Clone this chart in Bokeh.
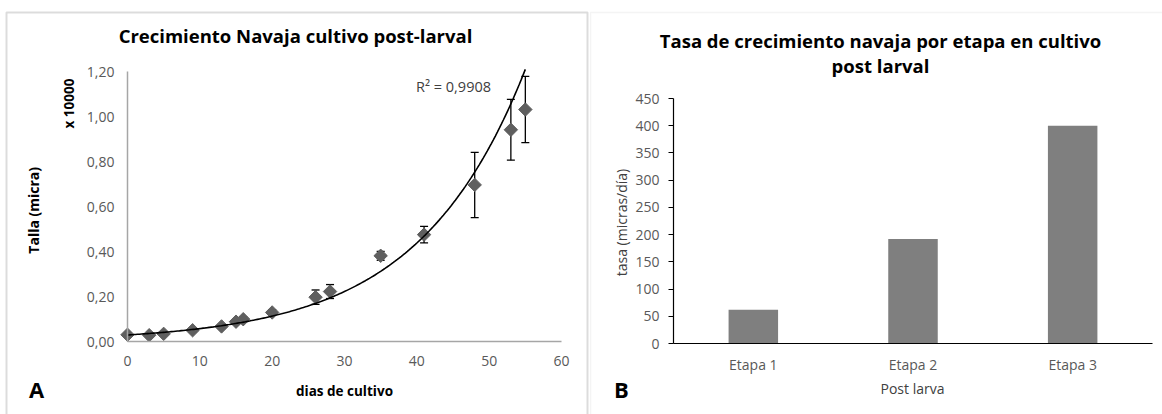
import math
import numpy as np
from bokeh.plotting import figure
from bokeh.models import (Range1d, FixedTicker, Label, ColumnDataSource,
                          Whisker, TeeHead, BoxAnnotation)
from bokeh.layouts import row
from bokeh.embed import file_html
from bokeh.resources import INLINE

# ---------------- data: panel A ----------------
dias = [0, 3, 5, 9, 13, 15, 16, 20, 26, 28, 35, 41, 48, 53, 55]
talla = [0.030, 0.028, 0.034, 0.050, 0.067, 0.088, 0.099, 0.129, 0.197, 0.222,
         0.381, 0.475, 0.696, 0.941, 1.031]
error = [0.005, 0.005, 0.005, 0.008, 0.008, 0.010, 0.010, 0.012, 0.032, 0.031,
         0.020, 0.037, 0.145, 0.135, 0.147]
x_ticks_a = [0, 10, 20, 30, 40, 50, 60]
y_ticks_a = [0.0, 0.2, 0.4, 0.6, 0.8, 1.0, 1.2]
y_labels_a = ["0,00", "0,20", "0,40", "0,60", "0,80", "1,00", "1,20"]
r2_text = "R² = 0,9908"

# ---------------- data: panel B ----------------
etapas = ["Etapa 1", "Etapa 2", "Etapa 3"]
tasa = [62, 192, 400]
y_ticks_b = [0, 50, 100, 150, 200, 250, 300, 350, 400, 450]

FONT = "Open Sans"
GRAY_TXT = "#595959"
H = 414

# ---------------- layout geometry (pixels) ----------------
WA, WB = 589, 573
A_X0, A_X1, A_Y0, A_Y1 = 127, 561, 341, 71      # pixel of x=0, x=60, y=0, y=1.2
B_X0, B_X1, B_Y0, B_Y1 = 84, 563, 343, 98       # pixel of category start/end, y=0, y=450

def common(p):
    p.grid.visible = False
    p.outline_line_color = None
    p.background_fill_color = "white"
    p.border_fill_color = "white"

def lab(p, x, y, text, size, bold=False, color="black", angle=0.0):
    p.add_layout(Label(x=x, y=y, text=text, text_font=FONT, text_font_size=size,
                       text_font_style="bold" if bold else "normal", text_color=color,
                       text_align="center", text_baseline="middle", angle=angle))

# ================= Panel A =================
kxa = (A_X1 - A_X0) / 60.0
kya = (A_Y0 - A_Y1) / 1.2
xa = lambda px: (px - A_X0) / kxa
ya = lambda py: (A_Y0 - py) / kya

fa = figure(width=WA, height=H,
            x_range=Range1d(xa(0), xa(WA)), y_range=Range1d(ya(H), ya(0)),
            output_backend="svg", toolbar_location=None, title_location=None,
            min_border=0, min_border_left=0, min_border_right=0,
            min_border_top=0, min_border_bottom=0)
common(fa)

for ax in (fa.xaxis[0], fa.yaxis[0]):
    ax.axis_line_color = "#a6a6a6"
    ax.axis_line_width = 1.5
    ax.major_tick_line_color = None
    ax.minor_tick_line_color = None
    ax.major_tick_out = 0
    ax.major_tick_in = 0
    ax.major_label_text_font = FONT
    ax.major_label_text_font_size = "14px"
    ax.major_label_text_color = GRAY_TXT
    ax.fixed_location = 0
fa.xaxis.bounds = (x_ticks_a[0], x_ticks_a[-1])
fa.yaxis.bounds = (y_ticks_a[0], y_ticks_a[-1])
fa.xaxis.ticker = FixedTicker(ticks=x_ticks_a)
fa.yaxis.ticker = FixedTicker(ticks=y_ticks_a)
fa.yaxis.major_label_overrides = {t: l for t, l in zip(y_ticks_a, y_labels_a)}
fa.yaxis.major_label_standoff = 13
fa.xaxis.major_label_standoff = 14

src = ColumnDataSource(dict(x=dias, y=talla,
                            lo=[t - e for t, e in zip(talla, error)],
                            hi=[t + e for t, e in zip(talla, error)]))
wh = Whisker(source=src, base="x", lower="lo", upper="hi", line_color="black", line_width=1.3,
             upper_head=TeeHead(size=8, line_color="black", line_width=1.3),
             lower_head=TeeHead(size=8, line_color="black", line_width=1.3),
             level="underlay")
fa.add_layout(wh)
fa.scatter("x", "y", source=src, marker="square", angle=math.pi / 4, size=9.5,
           fill_color="#5f5f5f", line_color="#5f5f5f")

# exponential trendline: least-squares fit of log(talla) on dias
b, ln_a = np.polyfit(np.array(dias, float), np.log(np.array(talla)), 1)
xs = np.linspace(min(dias), max(dias), 200)
fa.line(xs, np.exp(ln_a) * np.exp(b * xs), line_color="black", line_width=1.6)

lab(fa, xa(295), ya(35), "Crecimiento Navaja cultivo post-larval", "18.5px", bold=True)
lab(fa, xa(453), ya(86), r2_text, "14.5px", color="#404040")
lab(fa, xa(33), ya(208), "Talla  (micra)", "14px", bold=True, angle=math.pi / 2)
lab(fa, xa(68), ya(103), "x 10000", "13.5px", bold=True, angle=math.pi / 2)
lab(fa, xa(344), ya(390), "dias de cultivo", "13.5px", bold=True)
lab(fa, xa(36), ya(388), "A", "22px", bold=True)

fa.add_layout(BoxAnnotation(left=xa(6), right=xa(587), top=ya(12), bottom=ya(H + 20),
                            fill_alpha=0, line_color="#8c8c8c", line_width=2))

# ================= Panel B =================
kxb = (B_X1 - B_X0) / len(etapas)
kyb = (B_Y0 - B_Y1) / 450.0
xb = lambda px: (px - B_X0) / kxb
yb = lambda py: (B_Y0 - py) / kyb
pos_b = [i + 0.5 for i in range(len(etapas))]

fb = figure(width=WB, height=H,
            x_range=Range1d(xb(0), xb(WB)), y_range=Range1d(yb(H), yb(0)),
            output_backend="svg", toolbar_location=None, title_location=None,
            min_border=0, min_border_left=0, min_border_right=0,
            min_border_top=0, min_border_bottom=0)
common(fb)
fb.vbar(x=pos_b, top=tasa, width=0.31, fill_color="#7f7f7f", line_color=None)

for ax in (fb.xaxis[0], fb.yaxis[0]):
    ax.axis_line_color = "black"
    ax.axis_line_width = 1.2
    ax.minor_tick_line_color = None
    ax.major_label_text_font = FONT
    ax.major_label_text_font_size = "14px"
    ax.major_label_text_color = GRAY_TXT
    ax.fixed_location = 0
fb.xaxis.bounds = (0, len(etapas))
fb.yaxis.bounds = (y_ticks_b[0], y_ticks_b[-1])
fb.xaxis.ticker = FixedTicker(ticks=pos_b)
fb.xaxis.major_label_overrides = {p_: e for p_, e in zip(pos_b, etapas)}
fb.xaxis.major_tick_line_color = None
fb.xaxis.major_tick_out = 0
fb.xaxis.major_tick_in = 0
fb.xaxis.major_label_standoff = 11
fb.yaxis.ticker = FixedTicker(ticks=y_ticks_b)
fb.yaxis.major_tick_line_color = "black"
fb.yaxis.major_tick_out = 5
fb.yaxis.major_tick_in = 0
fb.yaxis.major_label_standoff = 9

lab(fb, xb(291), yb(40), "Tasa de crecimiento navaja por etapa en cultivo", "18.5px", bold=True)
lab(fb, xb(291), yb(65), "post larval", "18.5px", bold=True)
lab(fb, xb(32), yb(222), "tasa (micras/día)", "14px", color="#404040", angle=math.pi / 2)
lab(fb, xb(323), yb(388), "Post larva", "14px", color="#404040")
lab(fb, xb(32), yb(388), "B", "22px", bold=True)

fb.add_layout(BoxAnnotation(left=xb(1), right=xb(WB + 20), top=yb(12), bottom=yb(H + 20),
                            fill_alpha=0, line_color="#d9d9d9", line_width=1.5))

layout = row(fa, fb)
open("out.html", "w").write(file_html(layout, INLINE))
